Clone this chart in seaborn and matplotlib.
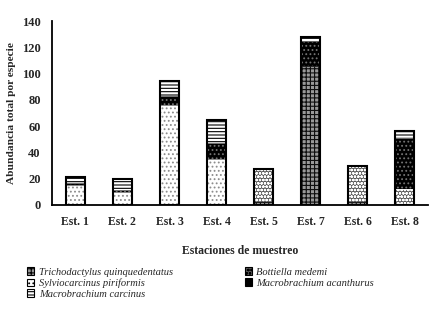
import pandas as pd
import matplotlib.pyplot as plt
import seaborn as sns
from matplotlib.patches import Patch

# Abundance per species at each sampling station (bottom -> top of stack)
stations = ['Est. 1', 'Est. 2', 'Est. 3', 'Est. 4', 'Est. 5', 'Est. 7', 'Est. 6', 'Est. 8']
trichodactylus = [0, 0, 0, 0, 2, 106, 2, 0]
bottiella = [0, 0, 0, 0, 25, 0, 28, 12]
sylviocarcinus = [15, 10, 76, 35, 0, 0, 0, 0]
acanthurus = [2, 1, 7, 12, 0, 19, 0, 39]
carcinus = [4, 9, 11, 18, 0, 3, 0, 5]

species = ['Trichodactylus quinquedentatus', 'Bottiella medemi', 'Sylviocarcinus piriformis',
           'Macrobrachium acanthurus', 'Macrobrachium carcinus']

df = pd.DataFrame({'station': stations,
                   species[0]: trichodactylus,
                   species[1]: bottiella,
                   species[2]: sylviocarcinus,
                   species[3]: acanthurus,
                   species[4]: carcinus})

sns.set_style('white')
plt.rcParams['font.family'] = ['Liberation Serif', 'DejaVu Serif']
plt.rcParams['hatch.linewidth'] = 0.8

# fill, hatch, hatch/edge colour for each species
styles = {
    species[0]: ('0.6', '++++', '0.05'),
    species[1]: ('0.35', 'ooooo', 'white'),
    species[2]: ('white', '....', '0.55'),
    species[3]: ('black', '....', '0.45'),
    species[4]: ('white', '-----', 'black'),
}

fig = plt.figure(figsize=(4.36, 3.10), dpi=100)
ax = fig.add_axes([0.119, 0.339, 0.863, 0.593])

# stacked bars: draw cumulative heights from the top layer down
cum = df[species].cumsum(axis=1)
for sp in reversed(species):
    fc, hatch, ec = styles[sp]
    sns.barplot(x=df['station'], y=cum[sp], color=fc, hatch=hatch, edgecolor=ec,
                linewidth=0.6, width=0.4, saturation=1, ax=ax)
# outer outline of each stack
sns.barplot(x=df['station'], y=cum[species[-1]], fill=False, edgecolor='black',
            linewidth=1.5, width=0.4, ax=ax)

ax.set_ylim(0, 140)
ax.set_xlim(-0.5, 7.5)
ax.set_yticks(range(0, 141, 20))
ax.tick_params(axis='y', length=0, labelsize=9, pad=8)
ax.tick_params(axis='x', length=0, labelsize=8.5, pad=8)
for lab in ax.get_xticklabels() + ax.get_yticklabels():
    lab.set_fontweight('bold')
ax.set_xlabel('Estaciones de muestreo', fontsize=8.5, fontweight='bold', labelpad=12)
ax.set_ylabel('Abundancia total por especie', fontsize=8.2, fontweight='bold', labelpad=4)
sns.despine(ax=ax)
ax.spines['left'].set_linewidth(1.3)
ax.spines['bottom'].set_linewidth(1.3)
ax.spines['left'].set_color('black')
ax.spines['bottom'].set_color('black')

order = [species[0], species[2], species[4], species[1], species[3]]
handles = [Patch(facecolor=styles[s][0], hatch=styles[s][1], edgecolor='black', linewidth=0.8)
           for s in order]
fig.legend(handles, order, loc='upper left', bbox_to_anchor=(0.05, 0.155), ncol=2,
           frameon=False, prop={'style': 'italic', 'size': 7.6}, handlelength=0.7,
           handleheight=0.7, handletextpad=0.4, labelspacing=0.15, columnspacing=6.8,
           borderpad=0)

plt.savefig('out.png', dpi=100)
